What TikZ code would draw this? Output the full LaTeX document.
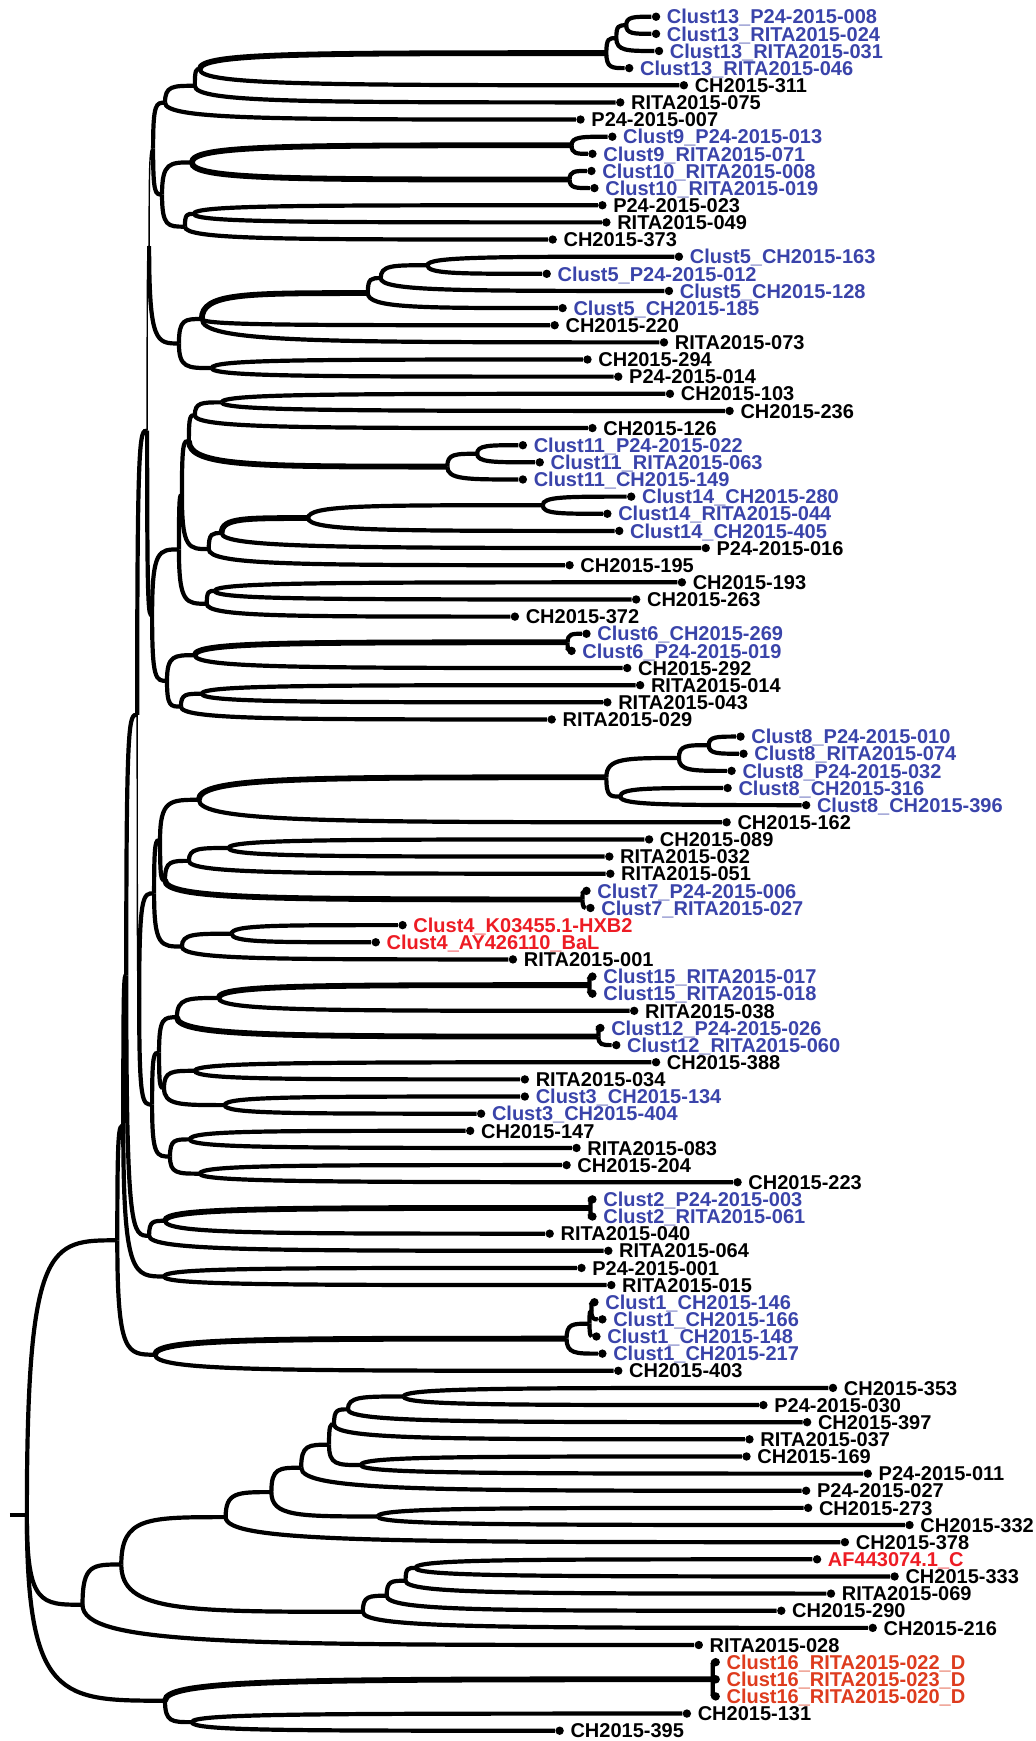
\documentclass[tikz,border=0pt]{standalone}
\usepackage{fontspec}
\setmainfont{Liberation Sans}
\usetikzlibrary{calc}
\definecolor{cblue}{RGB}{58,68,170}
\definecolor{cred}{RGB}{237,28,36}
\definecolor{corg}{RGB}{222,60,30}
\tikzset{
  curv/.style={to path={.. controls (\tikztostart |- \tikztotarget) and ($(\tikztostart |- \tikztotarget)!0.25!(\tikztotarget)$) .. (\tikztotarget)}},
  br/.style={curv, line width=2.1pt},
  bs/.style={curv, line width=2.9pt},
  bt/.style={curv, line width=0.7pt},
  dotn/.style={circle, fill=black, inner sep=0pt, minimum size=4.2pt},
  lab/.style={font=\fontsize{10pt}{12pt}\selectfont\bfseries, inner sep=0pt, anchor=base west},
}
\newcommand\leafnode[5]{\node[dotn] (#1) at (#2,#3) {};
  \node[lab,text=#4] (#1t) at ([xshift=5.25pt,yshift=-3.6pt]#1.center) {#5};}
\begin{document}
\begin{tikzpicture}[x=0.497pt,y=-0.5pt]
\fill[white] (0pt,0pt) rectangle (517.5pt,-870.5pt);
\useasboundingbox (0pt,0pt) rectangle (517.5pt,-870.5pt);
\begin{scope}[xshift=1.5pt]
% ---------- leaves ----------
\leafnode{L1}{657}{16.70}{cblue}{Clust13\_P24-2015-008}
\leafnode{L2}{657}{33.84}{cblue}{Clust13\_RITA2015-024}
\leafnode{L3}{660}{50.98}{cblue}{Clust13\_RITA2015-031}
\leafnode{L4}{630}{68.12}{cblue}{Clust13\_RITA2015-046}
\leafnode{L5}{685}{85.26}{black}{CH2015-311}
\leafnode{L6}{621}{102.40}{black}{RITA2015-075}
\leafnode{L7}{581}{119.54}{black}{P24-2015-007}
\leafnode{L8}{613}{136.68}{cblue}{Clust9\_P24-2015-013}
\leafnode{L9}{593}{153.82}{cblue}{Clust9\_RITA2015-071}
\leafnode{L10}{592}{170.96}{cblue}{Clust10\_RITA2015-008}
\leafnode{L11}{595}{188.10}{cblue}{Clust10\_RITA2015-019}
\leafnode{L12}{603}{205.24}{black}{P24-2015-023}
\leafnode{L13}{607}{222.38}{black}{RITA2015-049}
\leafnode{L14}{553}{239.52}{black}{CH2015-373}
\leafnode{L15}{680}{256.66}{cblue}{Clust5\_CH2015-163}
\leafnode{L16}{547}{273.80}{cblue}{Clust5\_P24-2015-012}
\leafnode{L17}{670}{290.94}{cblue}{Clust5\_CH2015-128}
\leafnode{L18}{563}{308.08}{cblue}{Clust5\_CH2015-185}
\leafnode{L19}{555}{325.22}{black}{CH2015-220}
\leafnode{L20}{665}{342.36}{black}{RITA2015-073}
\leafnode{L21}{588}{359.50}{black}{CH2015-294}
\leafnode{L22}{619}{376.64}{black}{P24-2015-014}
\leafnode{L23}{671}{393.78}{black}{CH2015-103}
\leafnode{L24}{731}{410.92}{black}{CH2015-236}
\leafnode{L25}{593}{428.06}{black}{CH2015-126}
\leafnode{L26}{523}{445.20}{cblue}{Clust11\_P24-2015-022}
\leafnode{L27}{540}{462.34}{cblue}{Clust11\_RITA2015-063}
\leafnode{L28}{523}{479.48}{cblue}{Clust11\_CH2015-149}
\leafnode{L29}{632}{496.62}{cblue}{Clust14\_CH2015-280}
\leafnode{L30}{608}{513.76}{cblue}{Clust14\_RITA2015-044}
\leafnode{L31}{620}{530.90}{cblue}{Clust14\_CH2015-405}
\leafnode{L32}{707}{548.04}{black}{P24-2015-016}
\leafnode{L33}{570}{565.18}{black}{CH2015-195}
\leafnode{L34}{683}{582.32}{black}{CH2015-193}
\leafnode{L35}{637}{599.46}{black}{CH2015-263}
\leafnode{L36}{515}{616.60}{black}{CH2015-372}
\leafnode{L37}{587}{633.74}{cblue}{Clust6\_CH2015-269}
\leafnode{L38}{572}{650.88}{cblue}{Clust6\_P24-2015-019}
\leafnode{L39}{628}{668.02}{black}{CH2015-292}
\leafnode{L40}{641}{685.16}{black}{RITA2015-014}
\leafnode{L41}{608}{702.30}{black}{RITA2015-043}
\leafnode{L42}{552}{719.44}{black}{RITA2015-029}
\leafnode{L43}{742}{736.58}{cblue}{Clust8\_P24-2015-010}
\leafnode{L44}{745}{753.72}{cblue}{Clust8\_RITA2015-074}
\leafnode{L45}{733}{770.86}{cblue}{Clust8\_P24-2015-032}
\leafnode{L46}{729}{788.00}{cblue}{Clust8\_CH2015-316}
\leafnode{L47}{808}{805.14}{cblue}{Clust8\_CH2015-396}
\leafnode{L48}{728}{822.28}{black}{CH2015-162}
\leafnode{L49}{650}{839.42}{black}{CH2015-089}
\leafnode{L50}{610}{856.56}{black}{RITA2015-032}
\leafnode{L51}{611}{873.70}{black}{RITA2015-051}
\leafnode{L52}{587}{890.84}{cblue}{Clust7\_P24-2015-006}
\leafnode{L53}{591}{907.98}{cblue}{Clust7\_RITA2015-027}
\leafnode{L54}{402}{925.12}{cred}{Clust4\_K03455.1-HXB2}
\leafnode{L55}{375}{942.26}{cred}{Clust4\_AY426110\_BaL}
\leafnode{L56}{513}{959.40}{black}{RITA2015-001}
\leafnode{L57}{593}{976.54}{cblue}{Clust15\_RITA2015-017}
\leafnode{L58}{593}{993.68}{cblue}{Clust15\_RITA2015-018}
\leafnode{L59}{635}{1010.82}{black}{RITA2015-038}
\leafnode{L60}{601}{1027.96}{cblue}{Clust12\_P24-2015-026}
\leafnode{L61}{617}{1045.10}{cblue}{Clust12\_RITA2015-060}
\leafnode{L62}{657}{1062.24}{black}{CH2015-388}
\leafnode{L63}{525}{1079.38}{black}{RITA2015-034}
\leafnode{L64}{525}{1096.52}{cblue}{Clust3\_CH2015-134}
\leafnode{L65}{481}{1113.66}{cblue}{Clust3\_CH2015-404}
\leafnode{L66}{470}{1130.80}{black}{CH2015-147}
\leafnode{L67}{577}{1147.94}{black}{RITA2015-083}
\leafnode{L68}{567}{1165.08}{black}{CH2015-204}
\leafnode{L69}{739}{1182.22}{black}{CH2015-223}
\leafnode{L70}{593}{1199.36}{cblue}{Clust2\_P24-2015-003}
\leafnode{L71}{593}{1216.50}{cblue}{Clust2\_RITA2015-061}
\leafnode{L72}{550}{1233.64}{black}{RITA2015-040}
\leafnode{L73}{609}{1250.78}{black}{RITA2015-064}
\leafnode{L74}{582}{1267.92}{black}{P24-2015-001}
\leafnode{L75}{612}{1285.06}{black}{RITA2015-015}
\leafnode{L76}{595}{1302.20}{cblue}{Clust1\_CH2015-146}
\leafnode{L77}{603}{1319.34}{cblue}{Clust1\_CH2015-166}
\leafnode{L78}{597}{1336.48}{cblue}{Clust1\_CH2015-148}
\leafnode{L79}{603}{1353.62}{cblue}{Clust1\_CH2015-217}
\leafnode{L80}{619}{1370.76}{black}{CH2015-403}
\leafnode{L81}{835}{1387.90}{black}{CH2015-353}
\leafnode{L82}{765}{1405.04}{black}{P24-2015-030}
\leafnode{L83}{809}{1422.18}{black}{CH2015-397}
\leafnode{L84}{751}{1439.32}{black}{RITA2015-037}
\leafnode{L85}{748}{1456.46}{black}{CH2015-169}
\leafnode{L86}{870}{1473.60}{black}{P24-2015-011}
\leafnode{L87}{808}{1490.74}{black}{P24-2015-027}
\leafnode{L88}{810}{1507.88}{black}{CH2015-273}
\leafnode{L89}{912}{1525.02}{black}{CH2015-332}
\leafnode{L90}{847}{1542.16}{black}{CH2015-378}
\leafnode{L91}{819}{1559.30}{cred}{AF443074.1\_C}
\leafnode{L92}{897}{1576.44}{black}{CH2015-333}
\leafnode{L93}{833}{1593.58}{black}{RITA2015-069}
\leafnode{L94}{783}{1610.72}{black}{CH2015-290}
\leafnode{L95}{875}{1627.86}{black}{CH2015-216}
\leafnode{L96}{700}{1645.00}{black}{RITA2015-028}
\leafnode{L97}{717}{1662.14}{corg}{Clust16\_RITA2015-022\_D}
\leafnode{L98}{717}{1679.28}{corg}{Clust16\_RITA2015-023\_D}
\leafnode{L99}{717}{1696.42}{corg}{Clust16\_RITA2015-020\_D}
\leafnode{L100}{688}{1713.56}{black}{CH2015-131}
\leafnode{L101}{560}{1730.70}{black}{CH2015-395}
% ---------- internal nodes ----------
\coordinate (c13a) at (627,25.27);
\coordinate (c13b) at (617,38.13);
\coordinate (c13) at (607,53.12);
\coordinate (nA) at (198,69.19);
\coordinate (nB) at (193,85.80);
\coordinate (nCc) at (163,102.67);
\coordinate (c9) at (572,145.25);
\coordinate (c10) at (570,179.53);
\coordinate (nD1) at (190,162.39);
\coordinate (nD2) at (192,213.81);
\coordinate (nD3) at (183,226.67);
\coordinate (nD) at (160,194.53);
\coordinate (nE) at (151,148.60);
\coordinate (c5a) at (427,265.23);
\coordinate (c5b) at (380,278.09);
\coordinate (c5) at (367,293.08);
\coordinate (nH) at (200,319.0);
\coordinate (nI) at (210,368.07);
\coordinate (nG) at (177,343.5);
\coordinate (nK) at (147,246.05);
\coordinate (n103) at (220,402.35);
\coordinate (n126) at (193,415.2);
\coordinate (c11a) at (477,453.77);
\coordinate (c11) at (447,466.6);
\coordinate (nL) at (187,440.9);
\coordinate (c14a) at (543,505.19);
\coordinate (c14) at (307,518.05);
\coordinate (n16) at (220,533.05);
\coordinate (nN) at (207,549.1);
\coordinate (nL2) at (180,495.0);
\coordinate (nO1) at (213,590.89);
\coordinate (nO) at (205,603.75);
\coordinate (nM) at (177,549.4);
\coordinate (c6) at (568,642.31);
\coordinate (n292) at (193,655.17);
\coordinate (n014) at (200,693.73);
\coordinate (n029) at (179,706.59);
\coordinate (nC4) at (165,680.88);
\coordinate (nP) at (150,615.14);
\coordinate (nR) at (145,430.6);
\coordinate (c8a) at (710,745.15);
\coordinate (c8b) at (680,758.0);
\coordinate (c8c) at (621,796.57);
\coordinate (c8) at (607,777.29);
\coordinate (nC5) at (197,799.78);
\coordinate (n089) at (227,847.99);
\coordinate (n051) at (187,860.85);
\coordinate (c7) at (583,899.41);
\coordinate (nC6) at (163,880.13);
\coordinate (nY1) at (158,839.96);
\coordinate (c4) at (230,933.69);
\coordinate (nC7) at (180,946.55);
\coordinate (nY2) at (152,893.25);
\coordinate (c15) at (590,985.11);
\coordinate (n038) at (217,997.97);
\coordinate (c12) at (599,1036.53);
\coordinate (nQ1) at (175,1017.25);
\coordinate (n388) at (193,1070.81);
\coordinate (c3) at (223,1105.09);
\coordinate (nQ2) at (162,1087.95);
\coordinate (nC8) at (157,1052.6);
\coordinate (n147) at (188,1139.37);
\coordinate (n204) at (198,1173.65);
\coordinate (nC9) at (168,1156.51);
\coordinate (nX) at (150,1104.56);
\coordinate (nS2) at (137,998.9);
\coordinate (nS) at (135,714.75);
\coordinate (c2) at (591,1207.93);
\coordinate (n040) at (163,1220.79);
\coordinate (nC10) at (147,1235.78);
\coordinate (nT) at (124,975.27);
\coordinate (nC11) at (162,1276.49);
\coordinate (nA1) at (121,1125.88);
\coordinate (c1a) at (592,1310.77);
\coordinate (c1b) at (590,1323.63);
\coordinate (c1) at (567,1338.63);
\coordinate (nC12) at (153,1354.7);
\coordinate (nAA) at (115,1240.29);
\coordinate (z1a) at (403,1396.47);
\coordinate (z1b) at (347,1409.33);
\coordinate (z1) at (333,1424.32);
\coordinate (z2) at (360,1465.03);
\coordinate (z3) at (328,1444.68);
\coordinate (z4) at (300,1467.71);
\coordinate (z273) at (377,1516.45);
\coordinate (z5) at (270,1492.08);
\coordinate (z6) at (224,1517.12);
\coordinate (af1) at (415,1567.87);
\coordinate (af2) at (405,1580.73);
\coordinate (af3) at (386,1595.73);
\coordinate (af4) at (362,1611.8);
\coordinate (bot2) at (119,1564.46);
\coordinate (bot1) at (80,1604.73);
\coordinate (c16) at (714,1679.28);
\coordinate (n131) at (190,1722.13);
\coordinate (bot3) at (163,1700.7);
\coordinate (root) at (24,1515.2);
\coordinate (rootstub) at (7,1515.2);
% ---------- branches ----------
% clade 1
\draw[br] (c13a) to (L1); \draw[br] (c13a) to (L2);
\draw[br] (c13b) to (c13a); \draw[br] (c13b) to (L3);
\draw[br] (c13) to (c13b); \draw[br] (c13) to (L4);
\draw[bs] (nA) to (c13); \draw[br] (nA) to (L5);
\draw[br] (nB) to (nA); \draw[br] (nB) to (L6);
\draw[br] (nCc) to (nB); \draw[br] (nCc) to (L7);
\draw[br] (c9) to (L8); \draw[br] (c9) to (L9);
\draw[br] (c10) to (L10); \draw[br] (c10) to (L11);
\draw[bs] (nD1) to (c9); \draw[bs] (nD1) to (c10);
\draw[br] (nD2) to (L12); \draw[br] (nD2) to (L13);
\draw[br] (nD3) to (nD2); \draw[br] (nD3) to (L14);
\draw[br] (nD) to (nD1); \draw[br] (nD) to (nD3);
\draw[br] (nE) to (nCc); \draw[br] (nE) to (nD);
% clade 2
\draw[br] (c5a) to (L15); \draw[br] (c5a) to (L16);
\draw[br] (c5b) to (c5a); \draw[br] (c5b) to (L17);
\draw[br] (c5) to (c5b); \draw[br] (c5) to (L18);
\draw[bs] (nH) to (c5); \draw[br] (nH) to (L19); \draw[br] (nH) to (L20);
\draw[br] (nI) to (L21); \draw[br] (nI) to (L22);
\draw[br] (nG) to (nH); \draw[br] (nG) to (nI);
\draw[bt] (nK) to (nE); \draw[br] (nK) to (nG);
% clade 3
\draw[br] (n103) to (L23); \draw[br] (n103) to (L24);
\draw[br] (n126) to (n103); \draw[br] (n126) to (L25);
\draw[br] (c11a) to (L26); \draw[br] (c11a) to (L27);
\draw[br] (c11) to (c11a); \draw[br] (c11) to (L28);
\draw[br] (nL) to (n126); \draw[bs] (nL) to (c11);
\draw[br] (c14a) to (L29); \draw[br] (c14a) to (L30);
\draw[br] (c14) to (c14a); \draw[br] (c14) to (L31);
\draw[bs] (n16) to (c14); \draw[br] (n16) to (L32);
\draw[br] (nN) to (n16); \draw[br] (nN) to (L33);
\draw[br] (nL2) to (nL); \draw[br] (nL2) to (nN);
\draw[br] (nO1) to (L34); \draw[br] (nO1) to (L35);
\draw[br] (nO) to (nO1); \draw[br] (nO) to (L36);
\draw[br] (nM) to (nL2); \draw[br] (nM) to (nO);
% clade 4
\draw[br] (c6) to (L37); \draw[br] (c6) to (L38);
\draw[bs] (n292) to (c6); \draw[br] (n292) to (L39);
\draw[br] (n014) to (L40); \draw[br] (n014) to (L41);
\draw[br] (n029) to (n014); \draw[br] (n029) to (L42);
\draw[br] (nC4) to (n292); \draw[br] (nC4) to (n029);
\draw[br] (nP) to (nM); \draw[br] (nP) to (nC4);
\draw[bt] (nR) to (nK); \draw[br] (nR) to (nP);
% clade 5
\draw[br] (c8a) to (L43); \draw[br] (c8a) to (L44);
\draw[br] (c8b) to (c8a); \draw[br] (c8b) to (L45);
\draw[br] (c8c) to (L46); \draw[br] (c8c) to (L47);
\draw[br] (c8) to (c8b); \draw[br] (c8) to (c8c);
\draw[bs] (nC5) to (c8); \draw[br] (nC5) to (L48);
% clade 6
\draw[br] (n089) to (L49); \draw[br] (n089) to (L50);
\draw[br] (n051) to (n089); \draw[br] (n051) to (L51);
\draw[br] (c7) to (L52); \draw[br] (c7) to (L53);
\draw[br] (nC6) to (n051); \draw[bs] (nC6) to (c7);
\draw[br] (nY1) to (nC5); \draw[br] (nY1) to (nC6);
% clade 7
\draw[br] (c4) to (L54); \draw[br] (c4) to (L55);
\draw[br] (nC7) to (c4); \draw[br] (nC7) to (L56);
\draw[br] (nY2) to (nY1); \draw[br] (nY2) to (nC7);
% clade 8
\draw[br] (c15) to (L57); \draw[br] (c15) to (L58);
\draw[bs] (n038) to (c15); \draw[br] (n038) to (L59);
\draw[br] (c12) to (L60); \draw[br] (c12) to (L61);
\draw[br] (nQ1) to (n038); \draw[bs] (nQ1) to (c12);
\draw[br] (n388) to (L62); \draw[br] (n388) to (L63);
\draw[br] (c3) to (L64); \draw[br] (c3) to (L65);
\draw[br] (nQ2) to (n388); \draw[br] (nQ2) to (c3);
\draw[br] (nC8) to (nQ1); \draw[br] (nC8) to (nQ2);
% clade 9
\draw[br] (n147) to (L66); \draw[br] (n147) to (L67);
\draw[br] (n204) to (L68); \draw[br] (n204) to (L69);
\draw[br] (nC9) to (n147); \draw[br] (nC9) to (n204);
\draw[br] (nX) to (nC8); \draw[br] (nX) to (nC9);
\draw[br] (nS2) to (nY2); \draw[br] (nS2) to (nX);
\draw[br] (nS) to (nR); \draw[bt] (nS) to (nS2);
% clade 10-12
\draw[br] (c2) to (L70); \draw[br] (c2) to (L71);
\draw[bs] (n040) to (c2); \draw[br] (n040) to (L72);
\draw[br] (nC10) to (n040); \draw[br] (nC10) to (L73);
\draw[br] (nT) to (nS); \draw[br] (nT) to (nC10);
\draw[br] (nC11) to (L74); \draw[br] (nC11) to (L75);
\draw[br] (nA1) to (nT); \draw[br] (nA1) to (nC11);
\draw[br] (c1a) to (L76); \draw[br] (c1a) to (L77);
\draw[br] (c1b) to (c1a); \draw[br] (c1b) to (L78);
\draw[br] (c1) to (c1b); \draw[br] (c1) to (L79);
\draw[bs] (nC12) to (c1); \draw[br] (nC12) to (L80);
\draw[br] (nAA) to (nA1); \draw[br] (nAA) to (nC12);
% bottom clade
\draw[br] (z1a) to (L81); \draw[br] (z1a) to (L82);
\draw[br] (z1b) to (z1a); \draw[br] (z1b) to (L83);
\draw[br] (z1) to (z1b); \draw[br] (z1) to (L84);
\draw[br] (z2) to (L85); \draw[br] (z2) to (L86);
\draw[br] (z3) to (z1); \draw[br] (z3) to (z2);
\draw[br] (z4) to (z3); \draw[br] (z4) to (L87);
\draw[br] (z273) to (L88); \draw[br] (z273) to (L89);
\draw[br] (z5) to (z4); \draw[br] (z5) to (z273);
\draw[br] (z6) to (z5); \draw[br] (z6) to (L90);
\draw[br] (af1) to (L91); \draw[br] (af1) to (L92);
\draw[br] (af2) to (af1); \draw[br] (af2) to (L93);
\draw[br] (af3) to (af2); \draw[br] (af3) to (L94);
\draw[br] (af4) to (af3); \draw[br] (af4) to (L95);
\draw[br] (bot2) to (z6); \draw[br] (bot2) to (af4);
\draw[br] (bot1) to (bot2); \draw[br] (bot1) to (L96);
\draw[br] (c16) to (L97); \draw[br] (c16) to (L98); \draw[br] (c16) to (L99);
\draw[br] (n131) to (L100); \draw[br] (n131) to (L101);
\draw[bs] (bot3) to (c16); \draw[br] (bot3) to (n131);
% root
\draw[br] (root) to (nAA); \draw[br] (root) to (bot1); \draw[br] (root) to (bot3);
\draw[line width=2.1pt] (rootstub) -- (root);
\end{scope}
\end{tikzpicture}
\end{document}
